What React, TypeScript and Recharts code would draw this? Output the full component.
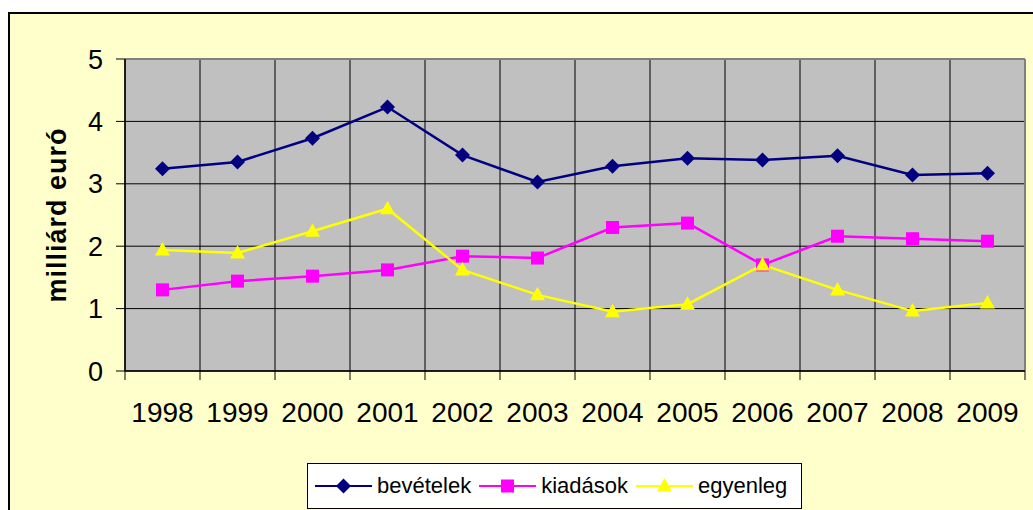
import { LineChart, Line, XAxis, YAxis, CartesianGrid, Legend, ReferenceLine } from "recharts";

const years = ["1998", "1999", "2000", "2001", "2002", "2003", "2004", "2005", "2006", "2007", "2008", "2009"];
const bevetelek = [3.24, 3.35, 3.73, 4.23, 3.46, 3.03, 3.28, 3.41, 3.38, 3.45, 3.14, 3.17];
const kiadasok = [1.3, 1.44, 1.52, 1.62, 1.84, 1.81, 2.3, 2.37, 1.7, 2.16, 2.12, 2.08];
const egyenleg = [1.94, 1.89, 2.24, 2.6, 1.62, 1.22, 0.95, 1.07, 1.7, 1.3, 0.96, 1.09];
const yTicks = [0, 1, 2, 3, 4, 5];

const data = years.map((year, i) => ({
    year,
    bevetelek: bevetelek[i],
    kiadasok: kiadasok[i],
    egyenleg: egyenleg[i],
}));

const font = "'Liberation Sans', Arial, sans-serif";
const LABEL_GAP = 31;

function marker(kind: string, cx: number, cy: number, color: string) {
    if (kind === "diamond") {
        return <path d={`M${cx} ${cy - 7.5}L${cx + 7.5} ${cy}L${cx} ${cy + 7.5}L${cx - 7.5} ${cy}Z`} fill={color} />;
    }
    if (kind === "square") {
        return <rect x={cx - 6.5} y={cy - 6.5} width={13} height={13} fill={color} />;
    }
    return <path d={`M${cx} ${cy - 8}L${cx + 7.5} ${cy + 5.5}L${cx - 7.5} ${cy + 5.5}Z`} fill={color} />;
}

const series = [
    { key: "bevetelek", name: "bevételek", color: "#000080", kind: "diamond" },
    { key: "kiadasok", name: "kiadások", color: "#FF00FF", kind: "square" },
    { key: "egyenleg", name: "egyenleg", color: "#FFFF00", kind: "triangle" },
];

// category label in the middle of its band, tick mark on the band edges
function YearTick(props: any) {
    const { x, y, payload, index } = props;
    const half = payload.offset || 0;
    const axisY = y - LABEL_GAP;
    return (
        <g>
            <line x1={x - half} y1={axisY} x2={x - half} y2={axisY + 9} stroke="#000" />
            {index === years.length - 1 && (
                <line x1={x + half} y1={axisY} x2={x + half} y2={axisY + 9} stroke="#000" />
            )}
            <text x={x} y={y} dy="0.71em" textAnchor="middle" fontSize={28} fontFamily={font} fill="#000">
                {payload.value}
            </text>
        </g>
    );
}

function LegendBox() {
    return (
        <div
            style={{
                boxSizing: "border-box",
                height: 46,
                border: "1px solid #000",
                background: "#fff",
                display: "flex",
                alignItems: "center",
                paddingLeft: 7,
                fontFamily: font,
                fontSize: 22,
                color: "#000",
            }}
        >
            {series.map((s) => (
                <span key={s.key} style={{ display: "flex", alignItems: "center", marginRight: 8 }}>
                    <svg width={57} height={20}>
                        <line x1={0} y1={10} x2={57} y2={10} stroke={s.color} strokeWidth={2} />
                        {marker(s.kind, 28.5, 10, s.color)}
                    </svg>
                    <span style={{ marginLeft: 5 }}>{s.name}</span>
                </span>
            ))}
        </div>
    );
}

export default function App() {
    return (
        <div style={{ position: "fixed", inset: 0, overflow: "hidden", background: "#fff" }}>
            <div
                style={{
                    position: "absolute",
                    left: 8,
                    top: 12,
                    width: 1040,
                    height: 520,
                    border: "2px solid #000",
                    background: "#FFFFCC",
                }}
            >
                <LineChart width={1030} height={500} data={data} margin={{ top: 45, right: 15, bottom: 83, left: 0 }}>
                    <CartesianGrid
                        fill="#C0C0C0"
                        stroke="#000"
                        strokeOpacity={1}
                        verticalCoordinatesGenerator={({ offset }: any) =>
                            years.map((_, i) => offset.left + (i * offset.width) / years.length)
                        }
                    />
                    <XAxis
                        dataKey="year"
                        scale="band"
                        axisLine={{ stroke: "#000", strokeWidth: 1.5 }}
                        tickLine={false}
                        tickSize={0}
                        tickMargin={LABEL_GAP}
                        height={60}
                        interval={0}
                        tick={<YearTick />}
                    />
                    <YAxis
                        domain={[0, 5]}
                        ticks={yTicks}
                        width={115}
                        axisLine={{ stroke: "#000", strokeWidth: 1.5 }}
                        tickLine={{ stroke: "#000" }}
                        tickSize={9}
                        tickMargin={13}
                        tick={{ fill: "#000", fontSize: 27, fontFamily: font }}
                        label={{
                            content: ({ viewBox }: any) => (
                                <text
                                    x={viewBox.x + 47}
                                    y={viewBox.y + viewBox.height / 2}
                                    transform={`rotate(-90 ${viewBox.x + 47} ${viewBox.y + viewBox.height / 2})`}
                                    textAnchor="middle"
                                    dominantBaseline="central"
                                    fontFamily={font}
                                    fontWeight="bold"
                                    fontSize={27}
                                    letterSpacing={1}
                                    fill="#000"
                                >
                                    milliárd euró
                                </text>
                            ),
                        }}
                    />
                    <ReferenceLine y={5} stroke="#808080" strokeWidth={2} />
                    <ReferenceLine x="2009" position="end" stroke="#808080" strokeWidth={2} />
                    {series.map((s) => (
                        <Line
                            key={s.key}
                            type="linear"
                            dataKey={s.key}
                            name={s.name}
                            stroke={s.color}
                            strokeWidth={2.5}
                            isAnimationActive={false}
                            activeDot={false}
                            dot={(p: any) => <g key={`${s.key}-${p.index}`}>{marker(s.kind, p.cx, p.cy, s.color)}</g>}
                        />
                    ))}
                    <Legend
                        layout="horizontal"
                        verticalAlign="middle"
                        align="center"
                        wrapperStyle={{ left: 297, top: 449, width: 495 }}
                        content={() => <LegendBox />}
                    />
                </LineChart>
            </div>
        </div>
    );
}
